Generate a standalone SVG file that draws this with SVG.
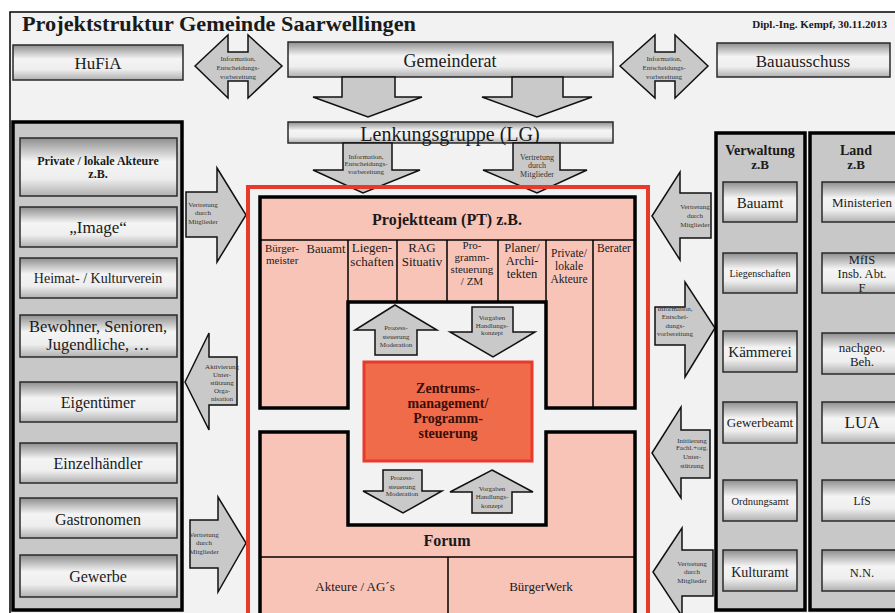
<svg xmlns="http://www.w3.org/2000/svg" width="895" height="613" viewBox="0 0 895 613" font-family="'Liberation Serif', 'DejaVu Serif', serif">
<defs>
<linearGradient id="bx" x1="0" y1="0" x2="0" y2="1">
<stop offset="0" stop-color="#8e8e8e"/>
<stop offset="0.4" stop-color="#f4f4f4"/>
<stop offset="0.7" stop-color="#eeeeee"/>
<stop offset="1" stop-color="#b0b0b0"/>
</linearGradient>
</defs>
<style>
text{font-family:'Liberation Serif','Times New Roman','DejaVu Serif',serif;fill:#1a1a1a;text-anchor:middle}
.bx{fill:url(#bx);stroke:#2a2a2a;stroke-width:1.5}
.ar{fill:#c9c9c9;stroke:#111;stroke-width:1.5;stroke-linejoin:miter}
.at{font-size:7px;fill:#333}
.pan{fill:#c8c8c8;stroke:#000;stroke-width:3.5}
.pk{fill:#f9c4b8;stroke:#000;stroke-width:3.5;stroke-linejoin:miter}
.dv{stroke:#000;stroke-width:1.5;fill:none}
.b{font-weight:bold}
</style>
<rect x="0" y="0" width="895" height="613" fill="#ffffff"/>
<rect x="10" y="12" width="900" height="620" fill="#f2f2f2" stroke="#000" stroke-width="1.5"/>
<text x="22" y="31" class="b" style="font-size:20.5px;text-anchor:start" textLength="394" lengthAdjust="spacingAndGlyphs">Projektstruktur Gemeinde Saarwellingen</text>
<text x="887" y="28" class="b" style="font-size:11px;text-anchor:end">Dipl.-Ing. Kempf, 30.11.2013</text>

<g id="hufia"><rect class="bx" x="13" y="45" width="170" height="35"/><text x="98" y="69" style="font-size:17px">HuFiA</text></g>
<g id="gemeinderat"><rect class="bx" x="288" y="42" width="325" height="35"/><text x="450" y="67" style="font-size:18px">Gemeinderat</text></g>
<g id="bauausschuss"><rect class="bx" x="717" y="43" width="173" height="34"/><text x="803" y="67" style="font-size:17px">Bauausschuss</text></g>
<g id="lg"><rect class="bx" x="288" y="122" width="325" height="21"/><text x="450" y="141" style="font-size:20px">Lenkungsgruppe (LG)</text></g>

<g id="connectors">
<polygon class="ar" points="195,66 228,35 228,52 248,52 248,35 282,66 248,98 248,81 228,81 228,98"/>
<text class="at" x="238" y="61">Information,</text><text class="at" x="238" y="70">Entscheidungs-</text><text class="at" x="238" y="79">vorbereitung</text>
<polygon class="ar" points="620,66 655,35 655,52 675,52 675,35 708,66 675,98 675,81 655,81 655,98"/>
<text class="at" x="664" y="61">Information,</text><text class="at" x="664" y="70">Entscheidungs-</text><text class="at" x="664" y="79">vorbereitung</text>
<polygon class="ar" points="342,77 395,77 395,97 422,97 368,117 313,97 342,97"/>
<polygon class="ar" points="512,77 563,77 563,97 592,97 537,117 482,97 512,97"/>
<polygon class="ar" points="343,143 392,143 392,170 420,170 363,193 313,170 343,170"/>
<text class="at" x="366" y="159">Information,</text><text class="at" x="366" y="166">Entscheidungs-</text><text class="at" x="366" y="174">vorbereitung</text>
<polygon class="ar" points="513,143 560,143 560,170 587,170 537,193 483,170 513,170"/>
<text class="at" x="537" y="160" style="font-size:8px">Vertretung</text><text class="at" x="537" y="168" style="font-size:8px">durch</text><text class="at" x="537" y="177" style="font-size:8px">Mitglieder</text>

<polygon class="ar" points="186,192 217,192 217,168 246,215 217,262 217,237 186,237"/>
<text class="at" x="203" y="207">Vertretung</text><text class="at" x="203" y="215">durch</text><text class="at" x="203" y="224">Mitglieder</text>
<polygon class="ar" points="185,382 209,333 209,357 237,357 237,405 209,405 209,430"/>
<text class="at" x="222" y="369">Aktivierung</text><text class="at" x="222" y="377">Unter-</text><text class="at" x="222" y="385">stützung</text><text class="at" x="222" y="393">Orga-</text><text class="at" x="222" y="401">nisation</text>
<polygon class="ar" points="190,520 218,520 218,497 246,543 218,592 218,568 190,568"/>
<text class="at" x="204" y="537">Vertretung</text><text class="at" x="204" y="545">durch</text><text class="at" x="204" y="554">Mitglieder</text>

<polygon class="ar" points="652,216 680,172 680,193 711,193 711,238 680,238 680,260"/>
<text class="at" x="695" y="209">Vertretung</text><text class="at" x="695" y="218">durch</text><text class="at" x="695" y="227">Mitglieder</text>
<polygon class="ar" points="655,307 685,307 685,282 715,328 685,377 685,345 655,345"/>
<text class="at" x="675" y="311">Information,</text><text class="at" x="675" y="319">Entschei-</text><text class="at" x="675" y="328">dungs-</text><text class="at" x="675" y="336">vorbereitung</text>
<polygon class="ar" points="652,453 681,407 681,430 710,430 710,478 681,478 681,498"/>
<text class="at" x="692" y="443">Initiierung</text><text class="at" x="692" y="450">Fachl.+org.</text><text class="at" x="692" y="459">Unter-</text><text class="at" x="692" y="468">stützung</text>
<polygon class="ar" points="653,572 682,528 682,550 713,550 713,596 682,596 682,616"/>
<text class="at" x="692" y="566">Vertretung</text><text class="at" x="692" y="574">durch</text><text class="at" x="692" y="583">Mitglieder</text>
</g>

<g id="private-panel">
<rect class="pan" x="13" y="122" width="169" height="488"/>
<rect class="bx" x="20" y="138" width="157" height="58"/><text x="98" y="165" class="b" style="font-size:12px">Private / lokale  Akteure</text><text x="98" y="178" class="b" style="font-size:12px">z.B.</text>
<rect class="bx" x="20" y="207" width="157" height="40"/><text x="98" y="233" style="font-size:17px">„Image“</text>
<rect class="bx" x="20" y="258" width="157" height="40"/><text x="98" y="283" style="font-size:14px">Heimat- / Kulturverein</text>
<rect class="bx" x="20" y="315" width="157" height="42"/><text x="98" y="332" style="font-size:16.5px">Bewohner, Senioren,</text><text x="98" y="350" style="font-size:16.5px">Jugendliche, …</text>
<rect class="bx" x="20" y="382" width="157" height="40"/><text x="98" y="408" style="font-size:16px">Eigentümer</text>
<rect class="bx" x="20" y="443" width="157" height="40"/><text x="98" y="469" style="font-size:16px">Einzelhändler</text>
<rect class="bx" x="20" y="498" width="157" height="40"/><text x="98" y="525" style="font-size:16px">Gastronomen</text>
<rect class="bx" x="20" y="555" width="157" height="42"/><text x="98" y="582" style="font-size:16px">Gewerbe</text>
</g>

<g id="red-frame"><rect x="248" y="187" width="400" height="440" fill="none" stroke="#e8392a" stroke-width="4"/></g>

<g id="projektteam">
<polygon class="pk" points="260,197 635,197 635,408 546,408 546,302 348,302 348,408 260,408"/>
<path class="dv" d="M260,240 H635 M397,240 V302 M447,240 V302 M498,240 V302 M593,240 V408 M348,240 V302 M546,240 V302"/>
<text x="447" y="225" class="b" style="font-size:16px">Projektteam (PT) z.B.</text>
<text x="265" y="252" style="font-size:11px;text-anchor:start">Bürger-</text><text x="266" y="264" style="font-size:11px;text-anchor:start">meister</text>
<text x="326" y="253" style="font-size:12.5px">Bauamt</text>
<text x="372" y="252" style="font-size:13px">Liegen-</text><text x="372" y="266" style="font-size:13px">schaften</text>
<text x="422" y="252" style="font-size:13px">RAG</text><text x="422" y="266" style="font-size:13px">Situativ</text>
<text x="472" y="249" style="font-size:11px">Pro-</text><text x="472" y="261" style="font-size:11px">gramm-</text><text x="472" y="273" style="font-size:11px">steuerung</text><text x="472" y="285" style="font-size:11px">/ ZM</text>
<text x="522" y="252" style="font-size:12.5px">Planer/</text><text x="522" y="265" style="font-size:12.5px">Archi-</text><text x="522" y="278" style="font-size:12.5px">tekten</text>
<text x="569" y="257" style="font-size:11.5px">Private/</text><text x="569" y="270" style="font-size:11.5px">lokale</text><text x="569" y="283" style="font-size:11.5px">Akteure</text>
<text x="614" y="252" style="font-size:11.5px">Berater</text>
</g>

<g id="forum">
<polygon class="pk" points="260,432 348,432 348,525 546,525 546,432 635,432 635,630 260,630"/>
<path class="dv" d="M260,557 H635 M448,557 V630"/>
<text x="447" y="546" class="b" style="font-size:16px">Forum</text>
<text x="355" y="591" style="font-size:13px">Akteure / AG´s</text>
<text x="541" y="591" style="font-size:13px">BürgerWerk</text>
</g>

<g id="zentrumsmanagement">
<rect x="364" y="362" width="168" height="99" fill="#f06b4a" stroke="#e8392a" stroke-width="3"/>
<text x="448" y="393" class="b" style="font-size:14px;fill:#3a0e08">Zentrums-</text>
<text x="448" y="408" class="b" style="font-size:14px;fill:#3a0e08">management/</text>
<text x="448" y="423" class="b" style="font-size:14px;fill:#3a0e08">Programm-</text>
<text x="448" y="438" class="b" style="font-size:14px;fill:#3a0e08">steuerung</text>
</g>

<g id="inner-arrows">
<polygon class="ar" points="395,305 437,330 417,330 417,355 375,355 375,330 355,330"/>
<text class="at" x="396" y="330">Prozess-</text><text class="at" x="396" y="339">steuerung</text><text class="at" x="396" y="347">Moderation</text>
<polygon class="ar" points="472,307 513,307 513,332 535,332 493,357 450,332 472,332"/>
<text class="at" x="492" y="320">Vorgaben</text><text class="at" x="492" y="328">Handlungs-</text><text class="at" x="492" y="335">konzept</text>
<polygon class="ar" points="383,470 422,470 422,491 442,491 403,513 363,491 383,491"/>
<text class="at" x="402" y="480">Prozess-</text><text class="at" x="402" y="489">steuerung</text><text class="at" x="402" y="496">Moderation</text>
<polygon class="ar" points="492,470 533,492 512,492 512,513 472,513 472,492 450,492"/>
<text class="at" x="492" y="491">Vorgaben</text><text class="at" x="492" y="499">Handlungs-</text><text class="at" x="492" y="508">konzept</text>
</g>

<g id="verwaltung">
<rect class="pan" x="716" y="133" width="89" height="477"/>
<text x="760" y="155" class="b" style="font-size:14px">Verwaltung</text><text x="760" y="169" class="b" style="font-size:13px">z.B</text>
<rect class="bx" x="723" y="182" width="74" height="40"/><text x="760" y="208" style="font-size:15px">Bauamt</text>
<rect class="bx" x="723" y="253" width="74" height="40"/><text x="760" y="277" style="font-size:10px">Liegenschaften</text>
<rect class="bx" x="723" y="331" width="74" height="41"/><text x="760" y="357" style="font-size:15px">Kämmerei</text>
<rect class="bx" x="723" y="402" width="74" height="41"/><text x="760" y="427" style="font-size:13px">Gewerbeamt</text>
<rect class="bx" x="723" y="480" width="74" height="41"/><text x="760" y="505" style="font-size:10.5px">Ordnungsamt</text>
<rect class="bx" x="723" y="550" width="74" height="41"/><text x="760" y="577" style="font-size:14px">Kulturamt</text>
</g>

<g id="land">
<rect class="pan" x="810" y="133" width="90" height="477"/>
<text x="856" y="155" class="b" style="font-size:14px">Land</text><text x="856" y="169" class="b" style="font-size:13px">z.B</text>
<rect class="bx" x="822" y="182" width="80" height="40"/><text x="862" y="207" style="font-size:13px">Ministerien</text>
<rect class="bx" x="822" y="253" width="80" height="40"/><text x="862" y="264" style="font-size:12.5px">MfIS</text><text x="862" y="278" style="font-size:12.5px">Insb. Abt.</text><text x="862" y="292" style="font-size:12.5px">F</text>
<rect class="bx" x="822" y="333" width="80" height="41"/><text x="862" y="352" style="font-size:13px">nachgeo.</text><text x="862" y="366" style="font-size:13px">Beh.</text>
<rect class="bx" x="822" y="402" width="80" height="41"/><text x="862" y="428" style="font-size:17px">LUA</text>
<rect class="bx" x="822" y="480" width="80" height="41"/><text x="862" y="505" style="font-size:11.5px">LfS</text>
<rect class="bx" x="822" y="550" width="80" height="41"/><text x="862" y="577" style="font-size:12.5px">N.N.</text>
</g>
</svg>
